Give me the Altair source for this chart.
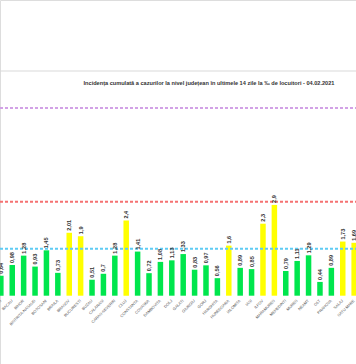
import altair as alt
import pandas as pd

counties = ["ARGES", "BACAU", "BIHOR", "BISTRITA-NASAUD", "BOTOSANI", "BRAILA", "BRASOV",
            "BUCURESTI", "BUZAU", "CALARASI", "CARAS-SEVERIN", "CLUJ", "CONSTANTA", "COVASNA",
            "DAMBOVITA", "DOLJ", "GALATI", "GIURGIU", "GORJ", "HARGHITA", "HUNEDOARA",
            "IALOMITA", "IASI", "ILFOV", "MARAMURES", "MEHEDINTI", "MURES", "NEAMT", "OLT",
            "PRAHOVA", "SALAJ", "SATU MARE"]
values = [0.64, 0.98, 1.28, 0.93, 1.45, 0.73, 2.01, 1.9, 0.51, 0.7, 1.28, 2.4, 1.41, 0.72,
          1.08, 1.13, 1.33, 0.83, 0.97, 0.56, 1.6, 0.89, 0.85, 2.3, 2.9, 0.79, 1.11, 1.29,
          0.44, 0.89, 1.73, 1.69]
thresholds = [1.5, 3, 6]
threshold_colors = ["#5FCBF4", "#F57272", "#D2A2E6"]
title_text = "Incidența cumulată a cazurilor la nivel județean în ultimele 14 zile la ‰ de locuitori - 04.02.2021"

df = pd.DataFrame({
    "judet": counties,
    "val": values,
    "lab": [str(v).replace(".", ",") for v in values],
    "cat": ["verde" if v < 1.5 else ("galben" if v < 3 else "rosu") for v in values],
})

W, H = 356, 364
xs = alt.X("judet:N", sort=None, axis=None,
           scale=alt.Scale(range=[-2.0, 357.0], paddingInner=0.5, paddingOuter=0))
ys = alt.Scale(domain=[-2.182, 9.447], nice=False, zero=False)

base = alt.Chart(df)

bars = base.mark_bar(size=5.5).encode(
    x=xs,
    y=alt.Y("val:Q", scale=ys, axis=None),
    y2=alt.datum(0),
    color=alt.Color("cat:N", scale=alt.Scale(domain=["verde", "galben", "rosu"],
                                             range=["#00E64D", "#FFFF00", "#FF0000"]), legend=None),
)

vlabels = base.mark_text(angle=270, align="left", baseline="middle", dx=2,
                         fontSize=5.6, fontWeight="bold", color="#333333",
                         font="Liberation Sans").encode(
    x=xs, y=alt.Y("val:Q", scale=ys), text="lab:N")

xlabels = base.mark_text(angle=315, align="right", baseline="middle",
                         fontSize=3.9, color="#595959", font="Liberation Sans").encode(
    x=xs, y=alt.Y("zero:Q", scale=ys), text="judet:N"
).transform_calculate(zero="-0.15")

rule_layers = []
for t, c in zip(thresholds, threshold_colors):
    rule_layers.append(
        alt.Chart(pd.DataFrame({"t": [t]})).mark_rule(
            strokeDash=[3, 2], strokeWidth=2, color=c).encode(
            y=alt.Y("t:Q", scale=ys),
            x=alt.value(0), x2=alt.value(W))
    )

topline = alt.Chart(pd.DataFrame({"a": [0]})).mark_rule(color="#D9D9D9", strokeWidth=1).encode(
    y=alt.value(71), x=alt.value(0), x2=alt.value(W))

title = alt.Chart(pd.DataFrame({"t": [title_text]})).mark_text(
    fontSize=5.6, fontWeight="bold", color="#333333", font="Liberation Sans",
    align="center", baseline="middle").encode(
    x=alt.value(209), y=alt.value(83), text="t:N")

chart = alt.layer(topline, title, bars, *rule_layers, vlabels, xlabels).properties(
    width=W, height=H, padding=0, autosize=alt.AutoSizeParams(type="none")
).configure_view(stroke=None).configure(background="white")

chart.save("out.html", embed_options={"renderer": "svg", "actions": False})
